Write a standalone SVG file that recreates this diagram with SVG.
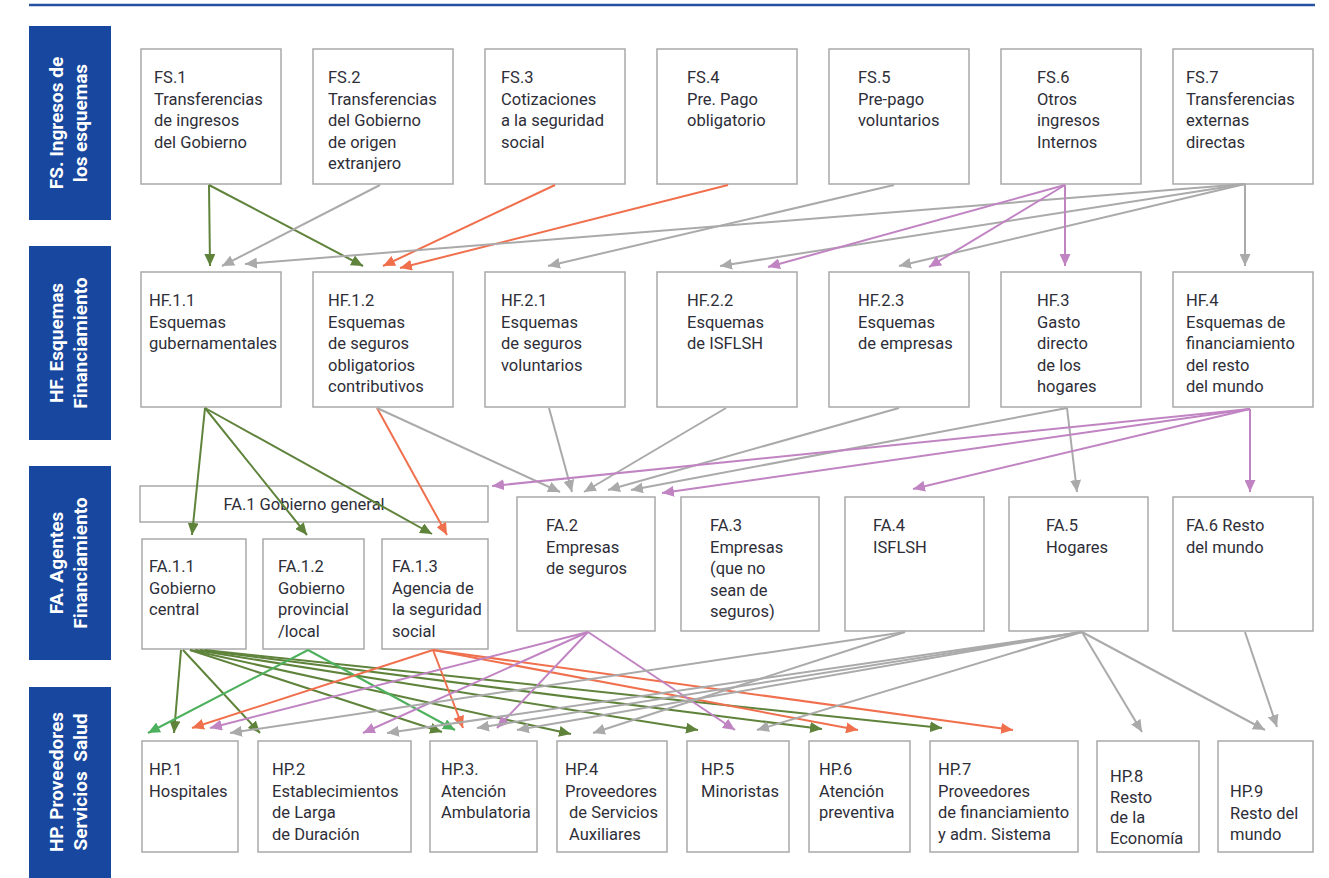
<svg xmlns="http://www.w3.org/2000/svg" width="1329" height="878" viewBox="0 0 1329 878">
<style>
.bg{fill:#ffffff}
.lab rect{fill:#17479e}
.lab text{fill:#ffffff;font-family:Roboto,"Liberation Sans",sans-serif;font-weight:bold;font-size:19px;text-anchor:middle;white-space:pre}
.node rect{fill:#ffffff;stroke:#a9a9a9;stroke-width:1.5}
.node text{fill:#2e2e38;font-family:Roboto,"Liberation Sans",sans-serif;font-size:16.5px}
.c line{fill:none;stroke-width:2}
.ol{stroke:#5f833b;marker-end:url(#mol)}
.gr{stroke:#aaaaaa;marker-end:url(#mgr)}
.or{stroke:#f0704e;marker-end:url(#mor)}
.pu{stroke:#c184c3;marker-end:url(#mpu)}
.bg2{stroke:#4db05c;marker-end:url(#mbg)}
</style>
<defs>
<marker id="mol" markerUnits="userSpaceOnUse" markerWidth="13" markerHeight="11" refX="12" refY="5.5" orient="auto"><path d="M0,0 L12,5.5 L0,11 z" fill="#5f833b"/></marker>
<marker id="mgr" markerUnits="userSpaceOnUse" markerWidth="13" markerHeight="11" refX="12" refY="5.5" orient="auto"><path d="M0,0 L12,5.5 L0,11 z" fill="#aaaaaa"/></marker>
<marker id="mor" markerUnits="userSpaceOnUse" markerWidth="13" markerHeight="11" refX="12" refY="5.5" orient="auto"><path d="M0,0 L12,5.5 L0,11 z" fill="#f0704e"/></marker>
<marker id="mpu" markerUnits="userSpaceOnUse" markerWidth="13" markerHeight="11" refX="12" refY="5.5" orient="auto"><path d="M0,0 L12,5.5 L0,11 z" fill="#c184c3"/></marker>
<marker id="mbg" markerUnits="userSpaceOnUse" markerWidth="13" markerHeight="11" refX="12" refY="5.5" orient="auto"><path d="M0,0 L12,5.5 L0,11 z" fill="#4db05c"/></marker>
</defs>
<rect class="bg" x="0" y="0" width="1329" height="878"/>
<line x1="29" y1="5" x2="1315" y2="5" stroke="#2452a0" stroke-width="2.5"/>

<g id="labels" class="lab">
<g id="lab-fs"><rect x="29" y="26" width="82" height="194"/><text transform="translate(70,123) rotate(-90)"><tspan x="0" y="-7">FS. Ingresos de</tspan><tspan x="0" y="16.5">los esquemas</tspan></text></g>
<g id="lab-hf"><rect x="29" y="246" width="82" height="194"/><text transform="translate(70,343) rotate(-90)"><tspan x="0" y="-7">HF. Esquemas</tspan><tspan x="0" y="16.5">Financiamiento</tspan></text></g>
<g id="lab-fa"><rect x="29" y="466" width="82" height="194"/><text transform="translate(70,563) rotate(-90)"><tspan x="0" y="-7">FA. Agentes</tspan><tspan x="0" y="16.5">Financiamiento</tspan></text></g>
<g id="lab-hp"><rect x="29" y="687" width="82" height="191"/><text transform="translate(70,782) rotate(-90)"><tspan x="0" y="-7">HP. Proveedores</tspan><tspan x="0" y="16.5">Servicios  Salud</tspan></text></g>
</g>

<g id="nodes" class="node">
<g id="FS1"><rect x="141" y="49" width="140" height="135"/><text x="154" y="83"><tspan x="154">FS.1</tspan><tspan x="154" dy="21.5">Transferencias</tspan><tspan x="154" dy="21.5">de ingresos</tspan><tspan x="154" dy="21.5">del Gobierno</tspan></text></g>
<g id="FS2"><rect x="313" y="49" width="140" height="135"/><text x="328" y="83"><tspan x="328">FS.2</tspan><tspan x="328" dy="21.5">Transferencias</tspan><tspan x="328" dy="21.5">del Gobierno</tspan><tspan x="328" dy="21.5">de origen</tspan><tspan x="328" dy="21.5">extranjero</tspan></text></g>
<g id="FS3"><rect x="485" y="49" width="140" height="135"/><text x="501" y="83"><tspan x="501">FS.3</tspan><tspan x="501" dy="21.5">Cotizaciones</tspan><tspan x="501" dy="21.5">a la seguridad</tspan><tspan x="501" dy="21.5">social</tspan></text></g>
<g id="FS4"><rect x="657" y="49" width="140" height="135"/><text x="687" y="83"><tspan x="687">FS.4</tspan><tspan x="687" dy="21.5">Pre. Pago</tspan><tspan x="687" dy="21.5">obligatorio</tspan></text></g>
<g id="FS5"><rect x="829" y="49" width="140" height="135"/><text x="858" y="83"><tspan x="858">FS.5</tspan><tspan x="858" dy="21.5">Pre-pago</tspan><tspan x="858" dy="21.5">voluntarios</tspan></text></g>
<g id="FS6"><rect x="1001" y="49" width="140" height="135"/><text x="1037" y="83"><tspan x="1037">FS.6</tspan><tspan x="1037" dy="21.5">Otros</tspan><tspan x="1037" dy="21.5">ingresos</tspan><tspan x="1037" dy="21.5">Internos</tspan></text></g>
<g id="FS7"><rect x="1173" y="49" width="140" height="135"/><text x="1186" y="83"><tspan x="1186">FS.7</tspan><tspan x="1186" dy="21.5">Transferencias</tspan><tspan x="1186" dy="21.5">externas</tspan><tspan x="1186" dy="21.5">directas</tspan></text></g>

<g id="HF11"><rect x="141" y="272" width="140" height="135"/><text x="149" y="306"><tspan x="149">HF.1.1</tspan><tspan x="149" dy="21.5">Esquemas</tspan><tspan x="149" dy="21.5">gubernamentales</tspan></text></g>
<g id="HF12"><rect x="313" y="272" width="140" height="135"/><text x="328" y="306"><tspan x="328">HF.1.2</tspan><tspan x="328" dy="21.5">Esquemas</tspan><tspan x="328" dy="21.5">de seguros</tspan><tspan x="328" dy="21.5">obligatorios</tspan><tspan x="328" dy="21.5">contributivos</tspan></text></g>
<g id="HF21"><rect x="485" y="272" width="140" height="135"/><text x="501" y="306"><tspan x="501">HF.2.1</tspan><tspan x="501" dy="21.5">Esquemas</tspan><tspan x="501" dy="21.5">de seguros</tspan><tspan x="501" dy="21.5">voluntarios</tspan></text></g>
<g id="HF22"><rect x="657" y="272" width="140" height="135"/><text x="687" y="306"><tspan x="687">HF.2.2</tspan><tspan x="687" dy="21.5">Esquemas</tspan><tspan x="687" dy="21.5">de ISFLSH</tspan></text></g>
<g id="HF23"><rect x="829" y="272" width="140" height="135"/><text x="858" y="306"><tspan x="858">HF.2.3</tspan><tspan x="858" dy="21.5">Esquemas</tspan><tspan x="858" dy="21.5">de empresas</tspan></text></g>
<g id="HF3"><rect x="1001" y="272" width="140" height="135"/><text x="1037" y="306"><tspan x="1037">HF.3</tspan><tspan x="1037" dy="21.5">Gasto</tspan><tspan x="1037" dy="21.5">directo</tspan><tspan x="1037" dy="21.5">de los</tspan><tspan x="1037" dy="21.5">hogares</tspan></text></g>
<g id="HF4"><rect x="1173" y="272" width="140" height="135"/><text x="1186" y="306"><tspan x="1186">HF.4</tspan><tspan x="1186" dy="21.5">Esquemas de</tspan><tspan x="1186" dy="21.5">financiamiento</tspan><tspan x="1186" dy="21.5">del resto</tspan><tspan x="1186" dy="21.5">del mundo</tspan></text></g>

<g id="FA1"><rect x="140" y="486" width="348" height="36"/><text x="304" y="510" text-anchor="middle">FA.1 Gobierno general</text></g>
<g id="FA11"><rect x="142" y="539" width="104" height="110"/><text x="149" y="572"><tspan x="149">FA.1.1</tspan><tspan x="149" dy="21.5">Gobierno</tspan><tspan x="149" dy="21.5">central</tspan></text></g>
<g id="FA12"><rect x="263" y="539" width="101" height="110"/><text x="278" y="572"><tspan x="278">FA.1.2</tspan><tspan x="278" dy="21.5">Gobierno</tspan><tspan x="278" dy="21.5">provincial</tspan><tspan x="278" dy="21.5">/local</tspan></text></g>
<g id="FA13"><rect x="382" y="539" width="106" height="110"/><text x="392" y="572"><tspan x="392">FA.1.3</tspan><tspan x="392" dy="21.5">Agencia de</tspan><tspan x="392" dy="21.5">la seguridad</tspan><tspan x="392" dy="21.5">social</tspan></text></g>
<g id="FA2"><rect x="517" y="497" width="138" height="134"/><text x="546" y="531"><tspan x="546">FA.2</tspan><tspan x="546" dy="21.5">Empresas</tspan><tspan x="546" dy="21.5">de seguros</tspan></text></g>
<g id="FA3"><rect x="681" y="497" width="138" height="134"/><text x="710" y="531"><tspan x="710">FA.3</tspan><tspan x="710" dy="21.5">Empresas</tspan><tspan x="710" dy="21.5">(que no</tspan><tspan x="710" dy="21.5">sean de</tspan><tspan x="710" dy="21.5">seguros)</tspan></text></g>
<g id="FA4"><rect x="845" y="497" width="139" height="134"/><text x="873" y="531"><tspan x="873">FA.4</tspan><tspan x="873" dy="21.5">ISFLSH</tspan></text></g>
<g id="FA5"><rect x="1009" y="497" width="139" height="134"/><text x="1046" y="531"><tspan x="1046">FA.5</tspan><tspan x="1046" dy="21.5">Hogares</tspan></text></g>
<g id="FA6"><rect x="1173" y="497" width="140" height="134"/><text x="1186" y="531"><tspan x="1186">FA.6 Resto</tspan><tspan x="1186" dy="21.5">del mundo</tspan></text></g>

<g id="HP1"><rect x="142" y="741" width="96" height="111"/><text x="149" y="775"><tspan x="149">HP.1</tspan><tspan x="149" dy="21.5">Hospitales</tspan></text></g>
<g id="HP2"><rect x="258" y="741" width="153" height="111"/><text x="272" y="775"><tspan x="272">HP.2</tspan><tspan x="272" dy="21.5">Establecimientos</tspan><tspan x="272" dy="21.5">de Larga</tspan><tspan x="272" dy="21.5">de Duración</tspan></text></g>
<g id="HP3"><rect x="430" y="741" width="107" height="111"/><text x="441" y="775"><tspan x="441">HP.3.</tspan><tspan x="441" dy="21.5">Atención</tspan><tspan x="441" dy="21.5">Ambulatoria</tspan></text></g>
<g id="HP4"><rect x="557" y="741" width="110" height="111"/><text x="565" y="775"><tspan x="565">HP.4</tspan><tspan x="565" dy="21.5">Proveedores</tspan><tspan x="569" dy="21.5">de Servicios</tspan><tspan x="569" dy="21.5">Auxiliares</tspan></text></g>
<g id="HP5"><rect x="687" y="741" width="102" height="111"/><text x="701" y="775"><tspan x="701">HP.5</tspan><tspan x="701" dy="21.5">Minoristas</tspan></text></g>
<g id="HP6"><rect x="809" y="741" width="101" height="111"/><text x="819" y="775"><tspan x="819">HP.6</tspan><tspan x="819" dy="21.5">Atención</tspan><tspan x="819" dy="21.5">preventiva</tspan></text></g>
<g id="HP7"><rect x="930" y="741" width="148" height="111"/><text x="938" y="775"><tspan x="938">HP.7</tspan><tspan x="938" dy="21.5">Proveedores</tspan><tspan x="938" dy="21.5">de financiamiento</tspan><tspan x="938" dy="21.5">y adm. Sistema</tspan></text></g>
<g id="HP8"><rect x="1097" y="741" width="102" height="111"/><text x="1110" y="782"><tspan x="1110">HP.8</tspan><tspan x="1110" dy="20.5">Resto</tspan><tspan x="1110" dy="20.5">de la</tspan><tspan x="1110" dy="20.5">Economía</tspan></text></g>
<g id="HP9"><rect x="1218" y="741" width="95" height="111"/><text x="1230" y="797"><tspan x="1230">HP.9</tspan><tspan x="1230" dy="21.5">Resto del</tspan><tspan x="1230" dy="21.5">mundo</tspan></text></g>
</g>

<g id="connectors" class="c">
<!-- FS -> HF -->
<line class="ol" x1="209" y1="185" x2="210" y2="266"/>
<line class="ol" x1="209" y1="185" x2="363" y2="266"/>
<line class="gr" x1="380" y1="185" x2="222" y2="266"/>
<line class="or" x1="555" y1="185" x2="383" y2="266"/>
<line class="or" x1="728" y1="185" x2="400" y2="268"/>
<line class="gr" x1="894" y1="185" x2="548" y2="266"/>
<line class="gr" x1="1245" y1="184" x2="245" y2="264"/>
<line class="gr" x1="1245" y1="184" x2="720" y2="266"/>
<line class="gr" x1="1245" y1="184" x2="899" y2="266"/>
<line class="gr" x1="1245" y1="184" x2="1245" y2="266"/>
<line class="pu" x1="1065" y1="185" x2="768" y2="267"/>
<line class="pu" x1="1065" y1="185" x2="929" y2="267"/>
<line class="pu" x1="1065" y1="185" x2="1065" y2="266"/>
<!-- HF -> FA -->
<line class="ol" x1="205" y1="408" x2="192" y2="535"/>
<line class="ol" x1="205" y1="408" x2="307" y2="535"/>
<line class="ol" x1="205" y1="408" x2="432" y2="534"/>
<line class="or" x1="377" y1="408" x2="447" y2="535"/>
<line class="gr" x1="377" y1="408" x2="560" y2="492"/>
<line class="gr" x1="549" y1="408" x2="572" y2="492"/>
<line class="gr" x1="726" y1="408" x2="584" y2="492"/>
<line class="gr" x1="899" y1="408" x2="608" y2="490"/>
<line class="gr" x1="1067" y1="408" x2="631" y2="490"/>
<line class="gr" x1="1067" y1="408" x2="1077" y2="492"/>
<line class="pu" x1="1250" y1="409" x2="492" y2="486"/>
<line class="pu" x1="1250" y1="409" x2="662" y2="493"/>
<line class="pu" x1="1250" y1="409" x2="913" y2="489"/>
<line class="pu" x1="1250" y1="409" x2="1250" y2="492"/>
<!-- FA -> HP -->
<line class="ol" x1="181" y1="650" x2="174" y2="733"/>
<line class="ol" x1="183" y1="650" x2="260" y2="733"/>
<line class="ol" x1="190" y1="650" x2="442" y2="732"/>
<line class="ol" x1="190" y1="650" x2="571" y2="734"/>
<line class="ol" x1="195" y1="650" x2="698" y2="730"/>
<line class="ol" x1="200" y1="650" x2="822" y2="729"/>
<line class="ol" x1="205" y1="650" x2="942" y2="728"/>
<line class="bg2" x1="308" y1="650" x2="148" y2="733"/>
<line class="bg2" x1="308" y1="650" x2="455" y2="730"/>
<line class="or" x1="433" y1="650" x2="192" y2="728"/>
<line class="or" x1="433" y1="650" x2="463" y2="728"/>
<line class="or" x1="433" y1="650" x2="858" y2="730"/>
<line class="or" x1="433" y1="650" x2="1013" y2="730"/>
<line class="pu" x1="588" y1="632" x2="210" y2="728"/>
<line class="pu" x1="588" y1="632" x2="363" y2="733"/>
<line class="pu" x1="588" y1="632" x2="497" y2="728"/>
<line class="pu" x1="588" y1="632" x2="735" y2="730"/>
<line class="gr" x1="905" y1="632" x2="230" y2="733"/>
<line class="gr" x1="905" y1="632" x2="593" y2="733"/>
<line class="gr" x1="1082" y1="632" x2="387" y2="733"/>
<line class="gr" x1="1082" y1="632" x2="477" y2="728"/>
<line class="gr" x1="1082" y1="632" x2="517" y2="730"/>
<line class="gr" x1="1082" y1="632" x2="757" y2="730"/>
<line class="gr" x1="1082" y1="632" x2="1142" y2="732"/>
<line class="gr" x1="1082" y1="632" x2="1265" y2="730"/>
<line class="gr" x1="1245" y1="632" x2="1277" y2="727"/>
</g>
</svg>
